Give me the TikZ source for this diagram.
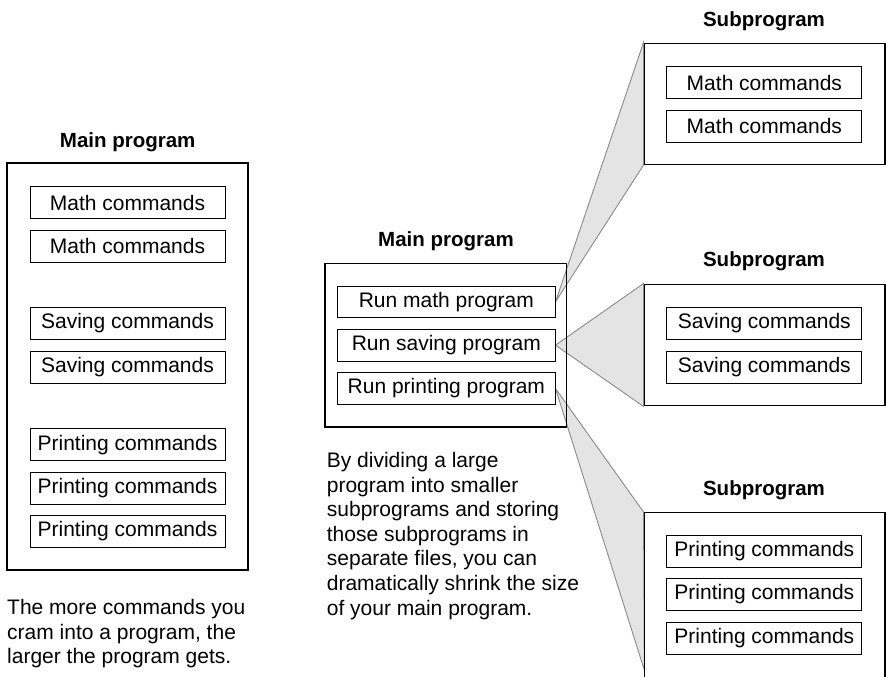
\documentclass[tikz,border=0pt]{standalone}
\usepackage{fontspec}
\setmainfont{Liberation Sans}
\definecolor{wedgefill}{HTML}{E4E4E4}
\definecolor{wedgeline}{HTML}{8A8A8A}
\begin{document}
\begin{tikzpicture}[x=1pt,y=-1pt,
  outer/.style={draw=black, line width=1.5pt, inner sep=0pt},
  cmd/.style={draw=black, line width=1pt, fill=white, minimum width=195pt, minimum height=32pt, inner sep=0pt, font=\fontsize{21}{25}\selectfont},
  runbox/.style={cmd, minimum width=217.3pt, minimum height=31.7pt},
  title/.style={font=\fontsize{20.5}{24}\selectfont\bfseries, inner sep=0pt},
  para/.style={font=\fontsize{21}{24.6}\selectfont, align=left, inner sep=0pt, anchor=north west},
  wedge/.style={fill=wedgefill, draw=wedgeline, line width=0.9pt, line join=miter}
]
\useasboundingbox (0,0) rectangle (886,677);

% ---------- left: single main program ----------
\node[title] (ltitle) at (127.7,142) {Main program};
\node[outer, minimum width=241pt, minimum height=407pt] (lmain) at (127.5,366.5) {};
\node[cmd] (l1) at (127.5,202.7) {Math commands};
\node[cmd] (l2) at (127.5,246.2) {Math commands};
\node[cmd] (l3) at (127.5,323.3) {Saving commands};
\node[cmd] (l4) at (127.5,367.0) {Saving commands};
\node[cmd] (l5) at (127.5,444.7) {Printing commands};
\node[cmd] (l6) at (127.5,488.0) {Printing commands};
\node[cmd] (l7) at (127.5,531.4) {Printing commands};
\node[para] (ltext) at (7,599) {The more commands you\\cram into a program, the\\larger the program gets.};

% ---------- subprogram boxes (positions) ----------
\node[outer, minimum width=240.5pt, minimum height=121pt] (s1) at (764.5,103.8) {};
\node[outer, minimum width=240.5pt, minimum height=121.4pt] (s2) at (764.5,345.0) {};
\node[outer, minimum width=240.5pt, minimum height=166pt] (s3) at (764.5,595.7) {};

% ---------- middle main program (positions) ----------
\node[outer, minimum width=241.7pt, minimum height=163.7pt] (mmain) at (445.85,345.15) {};
\node[runbox] (m1) at (446.35,301.85) {Run math program};
\node[runbox] (m2) at (446.35,345.15) {Run saving program};
\node[runbox] (m3) at (446.35,388.5) {Run printing program};

% ---------- wedges (behind the boxes) ----------
\coordinate (w3b) at (644.3,670);
\fill[wedge] (m1.east) -- (s1.north west) -- (s1.south west) -- cycle;
\fill[wedge] (m2.east) -- (s2.north west) -- (s2.south west) -- cycle;
\fill[wedge] (m3.east) -- (s3.north west) -- (w3b) -- cycle;

% redraw boxes on top of wedges
\node[outer, minimum width=241.7pt, minimum height=163.7pt] at (mmain) {};
\node[runbox] at (m1) {Run math program};
\node[runbox] at (m2) {Run saving program};
\node[runbox] at (m3) {Run printing program};
\node[outer, fill=white, minimum width=240.5pt, minimum height=121pt] at (s1) {};
\node[outer, fill=white, minimum width=240.5pt, minimum height=121.4pt] at (s2) {};
\node[outer, fill=white, minimum width=240.5pt, minimum height=166pt] at (s3) {};

\node[title] (mtitle) at (446,241.7) {Main program};
\node[para] (mtext) at (326.7,452) {By dividing a large\\program into smaller\\subprograms and storing\\those subprograms in\\separate files, you can\\dramatically shrink the size\\of your main program.};

% top subprogram
\node[title] (t1) at (764,21.7) {Subprogram};
\node[cmd] (a1) at (764.35,82.7) {Math commands};
\node[cmd] (a2) at (764.35,126.0) {Math commands};

% middle subprogram
\node[title] (t2) at (764,261.7) {Subprogram};
\node[cmd] (b1) at (764.35,323.5) {Saving commands};
\node[cmd] (b2) at (764.35,367.2) {Saving commands};

% bottom subprogram
\node[title] (t3) at (764,490) {Subprogram};
\node[cmd] (c1) at (764.35,551.2) {Printing commands};
\node[cmd] (c2) at (764.35,594.5) {Printing commands};
\node[cmd] (c3) at (764.35,638.0) {Printing commands};
\end{tikzpicture}
\end{document}
